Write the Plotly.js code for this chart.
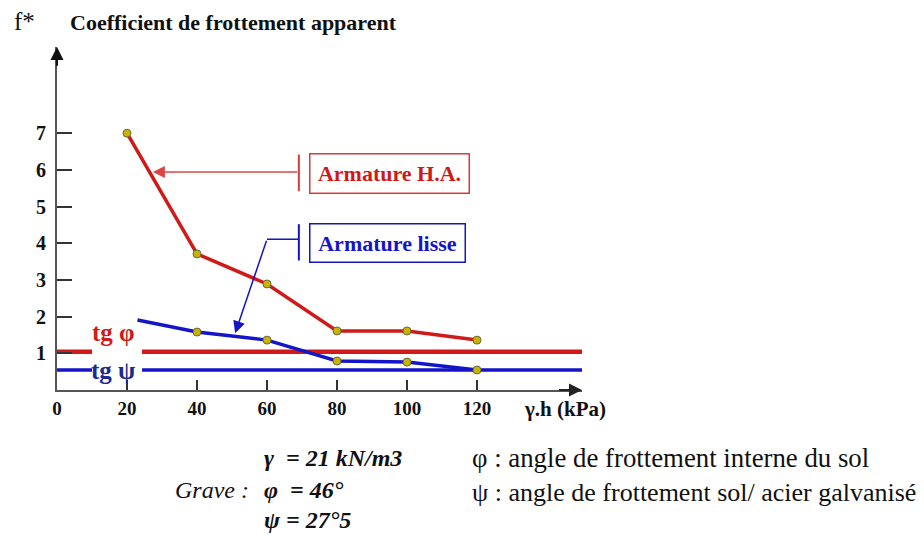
<!DOCTYPE html>
<html>
<head>
<meta charset="utf-8">
<script src="https://cdn.plot.ly/plotly-3.0.1.min.js"></script>
<style>html,body{margin:0;padding:0;background:#fff;}#chart{width:924px;height:535px;}</style>
</head>
<body>
<div id="chart"></div>
<script>
// ---- data ----
const xHA = [20, 40, 60, 80, 100, 120];
const yHA = [7.0, 3.71, 2.89, 1.61, 1.61, 1.36];
const xLisse = [23, 40, 60, 80, 100, 120];
const yLisse = [1.91, 1.58, 1.36, 0.79, 0.76, 0.545];
const tgPhi = 1.04;
const tgPsi = 0.545;
const xTicks = [0, 20, 40, 60, 80, 100, 120];
const yTicks = [1, 2, 3, 4, 5, 6, 7];

const RED = '#d01a1a', BLUE = '#1414c8', SERIF = 'Liberation Serif, Times New Roman, serif';
const MK = {size: 8, color: '#c8b400', line: {color: '#6a6a40', width: 1}};

const traces = [
  {x: [0, 150], y: [tgPhi, tgPhi], mode: 'lines', line: {color: RED, width: 4.5}, hoverinfo: 'skip'},
  {x: [0, 150], y: [tgPsi, tgPsi], mode: 'lines', line: {color: BLUE, width: 3.5}, hoverinfo: 'skip'},
  {x: xHA, y: yHA, mode: 'lines+markers', line: {color: RED, width: 3.5}, marker: MK},
  {x: xLisse, y: yLisse, mode: 'lines+markers', line: {color: BLUE, width: 3.5},
   marker: Object.assign({}, MK, {opacity: xLisse.map((v, i) => i === 0 ? 0 : 1)})}
];

const tf = (size, color, extra) => Object.assign({family: SERIF, size: size, color: color || '#111'}, extra || {});
const px = v => (v - 57) / 525;      // page x -> paper x
const py = v => (390 - v) / 343;     // page y -> paper y

const note = (x, y, text, font, xanchor) => ({xref: 'paper', yref: 'paper', x: px(x), y: py(y),
  xanchor: xanchor || 'left', yanchor: 'middle', text: text, showarrow: false, font: font});

const layout = {
  width: 924, height: 535,
  margin: {l: 57, r: 342, t: 47, b: 145},
  paper_bgcolor: '#fff', plot_bgcolor: '#fff',
  showlegend: false,
  title: {text: 'Coefficient de frottement apparent', x: 70/924, xanchor: 'left', xref: 'container',
          y: 1 - 22/535, yanchor: 'middle', yref: 'container', font: tf(22, '#111', {weight: 'bold'})},
  xaxis: {range: [0, 150], showgrid: false, zeroline: false, showline: true, linecolor: '#555', linewidth: 2,
          tickvals: xTicks, ticktext: xTicks.map(String), ticks: 'inside', ticklen: 10, tickwidth: 2, tickcolor: '#333',
          tickfont: tf(19, '#111', {weight: 'bold'}), fixedrange: true},
  yaxis: {range: [0, 9.35], showgrid: false, zeroline: false, showline: true, linecolor: '#555', linewidth: 2,
          tickvals: yTicks, ticktext: yTicks.map(String), ticks: 'inside', ticklen: 15, tickwidth: 2, tickcolor: '#333',
          tickfont: tf(20, '#111', {weight: 'bold'}), ticklabelstandoff: 5, fixedrange: true},
  shapes: [
    {type: 'rect', xref: 'x', yref: 'y', x0: 10, x1: 24.3, y0: 0.3, y1: 1.25, fillcolor: '#fff', line: {width: 0}, layer: 'above'},
    {type: 'line', xref: 'x', yref: 'y', x0: 69.1, x1: 69.1, y0: 5.42, y1: 6.42, line: {color: '#d83a3a', width: 2}},
    {type: 'line', xref: 'x', yref: 'y', x0: 69.1, x1: 69.1, y0: 3.53, y1: 4.52, line: {color: BLUE, width: 2}},
    {type: 'line', xref: 'x', yref: 'y', x0: 69.1, x1: 60, y0: 4.11, y1: 4.11, line: {color: BLUE, width: 1.5}}
  ],
  annotations: [
    // axis arrowheads
    {xref: 'x', yref: 'y', x: 150, y: 0, axref: 'x', ayref: 'y', ax: 143, ay: 0, text: '', showarrow: true,
     arrowhead: 2, arrowsize: 1.3, arrowwidth: 2, arrowcolor: '#222'},
    {xref: 'x', yref: 'y', x: 0, y: 9.35, axref: 'x', ayref: 'y', ax: 0, ay: 8.8, text: '', showarrow: true,
     arrowhead: 2, arrowsize: 1.3, arrowwidth: 2, arrowcolor: '#111'},
    // callout arrows
    {xref: 'x', yref: 'y', x: 27.4, y: 5.94, axref: 'x', ayref: 'y', ax: 69.1, ay: 5.94, text: '', showarrow: true,
     arrowhead: 2, arrowsize: 1.6, arrowwidth: 1.5, arrowcolor: '#dc4545'},
    {xref: 'x', yref: 'y', x: 50.9, y: 1.55, axref: 'x', ayref: 'y', ax: 60, ay: 4.11, text: '', showarrow: true,
     arrowhead: 2, arrowsize: 1.6, arrowwidth: 1.5, arrowcolor: BLUE},
    // boxes
    {xref: 'x', yref: 'y', x: 94.9, y: 5.89, text: 'Armature H.A.', showarrow: false, font: tf(22, RED, {weight: 'bold'}),
     width: 152, height: 32, borderpad: 3, bordercolor: '#d83a3a', borderwidth: 1.5, bgcolor: '#fff'},
    {xref: 'x', yref: 'y', x: 94.3, y: 4.0, text: 'Armature lisse', showarrow: false, font: tf(22, BLUE, {weight: 'bold'}),
     width: 148, height: 31, borderpad: 3, bordercolor: BLUE, borderwidth: 1.5, bgcolor: '#fff'},
    // tg labels
    {xref: 'x', yref: 'y', x: 16.0, y: 1.57, text: 'tg φ', showarrow: false, font: tf(25, RED, {weight: 'bold'})},
    {xref: 'x', yref: 'y', x: 16.0, y: tgPsi, text: 'tg ψ', showarrow: false, font: tf(25, '#1a2a90', {weight: 'bold'})},
    // axis labels
    note(565, 409, 'γ.h (kPa)', tf(21, '#111', {weight: 'bold'}), 'center'),
    note(12, 22, 'f*', tf(25, '#111')),
    // bottom notes
    note(262, 458, 'γ  = 21 kN/m3', tf(24, '#111', {style: 'italic', weight: 'bold'})),
    note(251, 490, 'Grave :', tf(24, '#111', {style: 'italic'}), 'right'),
    note(262, 490, 'φ  = 46°', tf(24, '#111', {style: 'italic', weight: 'bold'})),
    note(262, 520, 'ψ = 27°5', tf(24, '#111', {style: 'italic', weight: 'bold'})),
    note(470, 458, 'φ : angle de frottement interne du sol', tf(26.8, '#111')),
    note(470, 492, 'ψ : angle de frottement sol/ acier galvanisé', tf(26, '#111'))
  ]
};

Plotly.newPlot('chart', traces, layout, {staticPlot: true, displayModeBar: false});
</script>
</body>
</html>
